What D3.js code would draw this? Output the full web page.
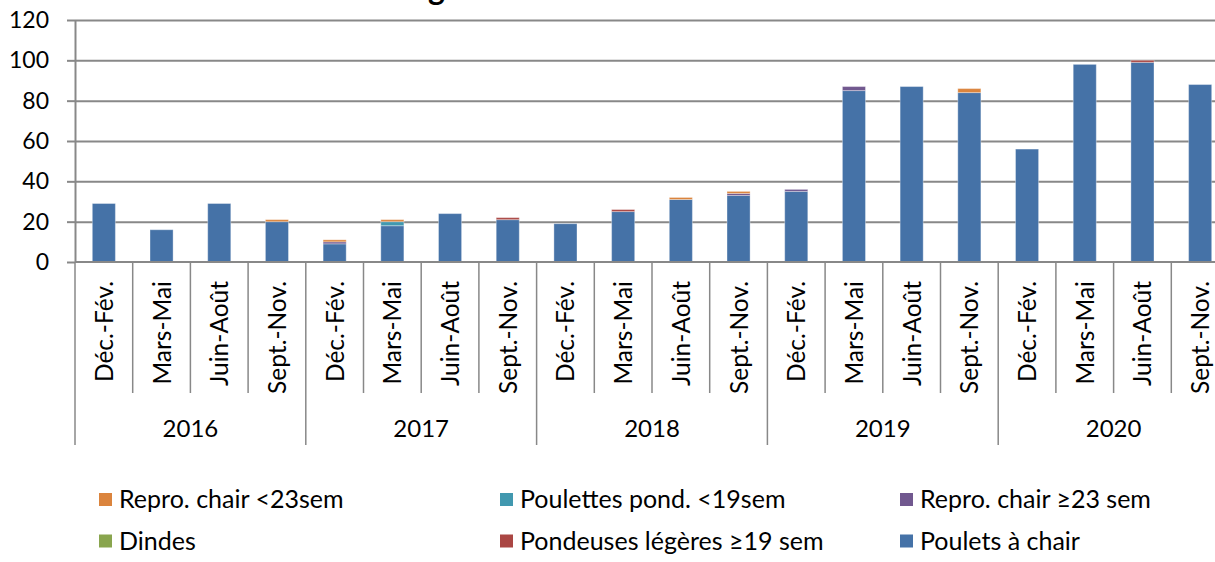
<!DOCTYPE html>
<html>
<head>
<meta charset="utf-8">
<script src="https://cdn.jsdelivr.net/npm/d3@7"></script>
<style>
  html, body { margin: 0; padding: 0; background: #fff; overflow: hidden; }
  svg { display: block; font-family: Lato, "Open Sans", sans-serif; }
</style>
</head>
<body>
<svg id="chart" width="1215" height="562"></svg>
<script>
// ---- data ----
const seasons = ["Déc.-Fév.", "Mars-Mai", "Juin-Août", "Sept.-Nov."];
const years = ["2016", "2017", "2018", "2019", "2020"];
const yTicks = [0, 20, 40, 60, 80, 100, 120];

const seriesNames = ["Poulets à chair", "Pondeuses légères ≥19 sem", "Dindes",
                     "Repro. chair ≥23 sem", "Poulettes pond. <19sem", "Repro. chair <23sem"];
const seriesColors = ["#4572A7", "#AA4643", "#89A54E", "#71588F", "#4198AF", "#DB843D"];

const poulets    = [29, 16, 29, 20,  9, 18, 24, 21, 19, 25, 31, 33, 35, 85, 87, 84, 56, 98, 99, 88];
const pondeuses  = [ 0,  0,  0,  0,  0,  0,  0,  1,  0,  1,  0,  0,  0,  0,  0,  0,  0,  0,  1,  0];
const dindes     = [ 0,  0,  0,  0,  0,  0,  0,  0,  0,  0,  0,  0,  0,  0,  0,  0,  0,  0,  0,  0];
const reproSup   = [ 0,  0,  0,  0,  1,  0,  0,  0,  0,  0,  0,  1,  1,  2,  0,  0,  0,  0,  0,  0];
const poulettes  = [ 0,  0,  0,  0,  0,  2,  0,  0,  0,  0,  0,  0,  0,  0,  0,  0,  0,  0,  0,  0];
const reproInf   = [ 0,  0,  0,  1,  1,  1,  0,  0,  0,  0,  1,  1,  0,  0,  0,  2,  0,  0,  0,  0];

const legendOrder = ["Repro. chair <23sem", "Poulettes pond. <19sem", "Repro. chair ≥23 sem",
                     "Dindes", "Pondeuses légères ≥19 sem", "Poulets à chair"];

// ---- build table ----
const seriesValues = [poulets, pondeuses, dindes, reproSup, poulettes, reproInf];
const categories = [];
years.forEach(yr => seasons.forEach(s => categories.push({ year: yr, season: s })));
const table = categories.map((c, i) => {
  const row = { idx: i };
  seriesNames.forEach((n, k) => row[n] = seriesValues[k][i]);
  return row;
});
const colorOf = d3.scaleOrdinal().domain(seriesNames).range(seriesColors);

// ---- layout ----
const svg = d3.select("#chart");
const pLeft = 75, pRight = 1229, pTop = 20, pBottom = 262;
const axisColor = "#888888";

const x = d3.scaleBand().domain(d3.range(categories.length)).range([pLeft, pRight])
  .paddingInner(0.6).paddingOuter(0.3);
const y = d3.scaleLinear().domain([0, 120]).range([pBottom, pTop]);
const step = x.step();
const boundary = i => x(0) - 0.3 * step + i * step;

// title (mostly outside the visible area)
svg.append("text").attr("x", 428).attr("y", 0)
  .attr("font-weight", "bold").attr("font-size", 32).attr("fill", "#000").text("g");

// gridlines
svg.append("g").attr("transform", `translate(${pLeft},0)`)
  .call(d3.axisLeft(y).tickValues(yTicks.filter(v => v > 0)).tickSize(-(pRight - pLeft)).tickFormat(""))
  .call(g => g.select(".domain").remove())
  .call(g => g.selectAll("line").attr("stroke", axisColor).attr("stroke-width", 2));

// y axis
svg.append("g").attr("transform", `translate(${pLeft},0)`)
  .call(d3.axisLeft(y).tickValues(yTicks).tickSize(8).tickPadding(18).tickSizeOuter(0))
  .call(g => g.select(".domain").attr("stroke", axisColor).attr("stroke-width", 2))
  .call(g => g.selectAll("line").attr("stroke", axisColor).attr("stroke-width", 2))
  .call(g => g.selectAll("text").attr("font-size", 23).attr("fill", "#000")
    .attr("font-family", "Lato, sans-serif"));

// bars
const stacked = d3.stack().keys(seriesNames)(table);
svg.append("g").selectAll("g").data(stacked).join("g")
  .attr("fill", d => colorOf(d.key))
  .selectAll("rect").data(d => d.filter(p => p[1] - p[0] > 0)).join("rect")
  .attr("x", d => x(d.data.idx))
  .attr("width", x.bandwidth())
  .attr("y", d => y(d[1]))
  .attr("height", d => y(d[0]) - y(d[1]))
  .attr("stroke", "rgba(255,255,255,0.35)")
  .attr("stroke-width", 1);

// x axis line
svg.append("line").attr("x1", pLeft).attr("x2", pRight).attr("y1", y(0)).attr("y2", y(0))
  .attr("stroke", axisColor).attr("stroke-width", 2);

// category separators and year separators
const sep = svg.append("g");
d3.range(categories.length + 1).forEach(i => {
  const isYear = i % seasons.length === 0;
  sep.append("line")
    .attr("x1", boundary(i)).attr("x2", boundary(i))
    .attr("y1", y(0)).attr("y2", isYear ? 445 : 393)
    .attr("stroke", axisColor).attr("stroke-width", 1.5);
});

// category labels
svg.append("g").selectAll("text").data(categories).join("text")
  .attr("transform", (d, i) => `translate(${x(i) + x.bandwidth() / 2},281) rotate(-90)`)
  .attr("text-anchor", "end")
  .attr("y", 9)
  .attr("font-size", 24.5)
  .attr("fill", "#000")
  .text(d => d.season);

// year labels
svg.append("g").selectAll("text").data(years).join("text")
  .attr("x", (d, i) => (boundary(i * 4) + boundary(i * 4 + 4)) / 2)
  .attr("y", 437)
  .attr("text-anchor", "middle")
  .attr("font-size", 24)
  .attr("fill", "#000")
  .text(d => d);

// legend
const colX = [99, 500, 900];
const rowY = [499.5, 541];
const leg = svg.append("g");
legendOrder.forEach((name, k) => {
  const cx = colX[k % 3], cy = rowY[Math.floor(k / 3)];
  leg.append("rect").attr("x", cx).attr("y", cy - 6.5).attr("width", 13).attr("height", 13)
    .attr("fill", colorOf(name));
  leg.append("text").attr("x", cx + 20).attr("y", cy + 8.5)
    .attr("font-size", 25).attr("fill", "#000").text(name);
});
</script>
</body>
</html>
